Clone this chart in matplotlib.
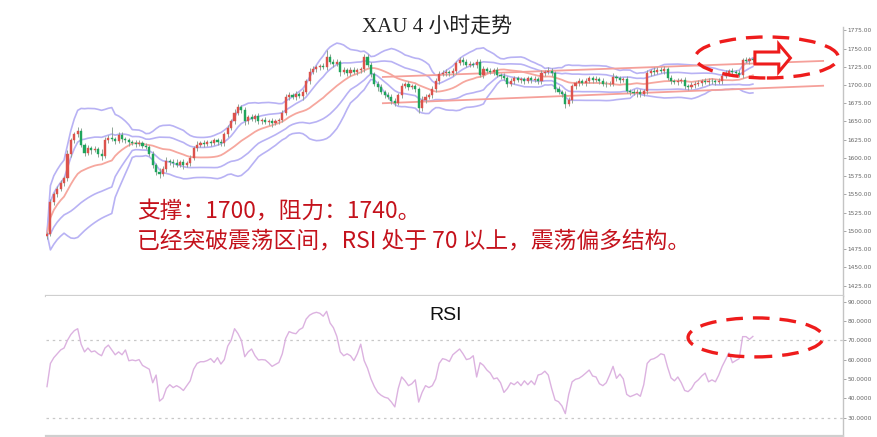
import numpy as np
import pandas as pd
import matplotlib
matplotlib.use("Agg")
import matplotlib.pyplot as plt
from matplotlib.patches import Ellipse, Polygon
from matplotlib.ticker import FormatStrFormatter

# ---------------- data ----------------
closes = [
    1496, 1540, 1550, 1558, 1566, 1572, 1606, 1624, 1633, 1637,
    1618, 1607, 1613, 1611, 1612, 1606, 1603, 1624, 1628, 1626,
    1623, 1631, 1626, 1624, 1622, 1621, 1619, 1620, 1617, 1615,
    1606, 1590, 1581, 1578, 1585, 1596, 1594, 1593, 1591, 1594,
    1590, 1593, 1600, 1614, 1618, 1620, 1619, 1622, 1621, 1624,
    1622, 1620, 1633, 1641, 1650, 1662, 1670, 1666, 1650, 1656,
    1653, 1657, 1650, 1652, 1649, 1651, 1648, 1650, 1652, 1662,
    1683, 1686, 1684, 1688, 1685, 1690, 1705, 1718, 1722, 1724,
    1726, 1725, 1738, 1732, 1729, 1731, 1718, 1720, 1716, 1721,
    1718, 1720, 1722, 1739, 1727, 1715, 1702, 1697, 1690, 1686,
    1684, 1678, 1676, 1686, 1699, 1701, 1697, 1698, 1694, 1668,
    1680, 1684, 1686, 1694, 1706, 1715, 1717, 1718, 1716, 1719,
    1730, 1734, 1732, 1728, 1729, 1727, 1732, 1714, 1722, 1719,
    1718, 1720, 1714, 1712, 1710, 1702, 1705, 1709, 1707, 1708,
    1706, 1709, 1707, 1708, 1705, 1716, 1718, 1719, 1716, 1694,
    1690, 1688, 1674, 1680, 1698, 1703, 1705, 1703, 1706, 1710,
    1707, 1708, 1706, 1702, 1701, 1702, 1711, 1709, 1707, 1708,
    1692, 1690, 1689, 1691, 1688, 1692, 1716, 1719, 1718, 1721,
    1719, 1722, 1710, 1705, 1704, 1706, 1707, 1699, 1697, 1700,
    1702, 1703, 1705, 1704, 1706, 1705, 1704, 1706, 1713, 1716,
    1719, 1718, 1717, 1714, 1734, 1733, 1735, 1734,
]
first_open = 1493

upper_wick = [
    3, 4, 3, 3, 4, 3, 5, 4, 3, 6,
    4, 3, 5, 3, 4, 3, 6, 5, 4, 14,
    3, 4, 5, 3, 4, 3, 3, 4, 3, 3,
    3, 4, 3, 5, 4, 6, 3, 4, 5, 3,
    4, 3, 4, 3, 5, 3, 4, 3, 3, 4,
    3, 4, 3, 4, 3, 5, 4, 3, 4, 3,
    4, 3, 5, 3, 4, 3, 4, 3, 3, 4,
    4, 5, 3, 4, 3, 4, 3, 5, 4, 4,
    3, 4, 10, 4, 3, 4, 3, 4, 3, 3,
    4, 3, 3, 4, 3, 4, 3, 4, 5, 3,
    4, 3, 4, 3, 4, 3, 4, 3, 4, 3,
    5, 4, 3, 4, 3, 4, 3, 4, 3, 4,
    3, 4, 5, 3, 4, 3, 4, 3, 4, 3,
    4, 3, 4, 3, 5, 3, 4, 3, 4, 3,
    3, 4, 3, 4, 3, 4, 3, 5, 4, 3,
    4, 3, 4, 3, 4, 3, 4, 3, 4, 3,
    3, 4, 3, 4, 3, 4, 5, 3, 4, 3,
    4, 3, 4, 3, 4, 3, 4, 3, 5, 3,
    4, 4, 3, 4, 3, 4, 3, 4, 3, 4,
    3, 4, 3, 4, 3, 4, 3, 4, 3, 4,
    3, 4, 3, 4, 3, 4, 3, 4,
]
lower_wick = [
    4, 3, 4, 3, 3, 4, 3, 4, 3, 4,
    3, 4, 3, 5, 3, 4, 6, 3, 4, 3,
    4, 3, 4, 3, 5, 3, 4, 3, 4, 3,
    3, 4, 5, 6, 3, 4, 3, 5, 4, 3,
    5, 3, 4, 3, 4, 3, 4, 3, 4, 3,
    4, 3, 3, 4, 3, 4, 3, 4, 5, 3,
    3, 4, 3, 4, 3, 4, 5, 3, 4, 3,
    3, 4, 3, 4, 3, 5, 3, 4, 3, 4,
    4, 3, 4, 3, 4, 3, 5, 3, 4, 3,
    3, 4, 3, 4, 3, 4, 3, 5, 3, 4,
    3, 4, 5, 3, 4, 3, 4, 3, 4, 6,
    3, 4, 3, 4, 3, 4, 3, 4, 3, 4,
    4, 3, 4, 3, 4, 3, 4, 3, 4, 3,
    3, 4, 3, 4, 3, 5, 3, 4, 3, 4,
    4, 3, 4, 3, 4, 3, 4, 3, 4, 4,
    3, 4, 6, 3, 4, 3, 4, 3, 4, 3,
    4, 3, 4, 3, 4, 3, 4, 3, 4, 3,
    3, 4, 3, 5, 4, 3, 4, 3, 4, 3,
    3, 4, 3, 4, 3, 4, 3, 5, 4, 3,
    4, 3, 4, 3, 4, 3, 4, 3, 4, 3,
    4, 3, 4, 3, 4, 3, 4, 3,
]

rsi = [
    46, 58, 61, 63, 65, 66, 70, 73, 75, 76,
    68, 64, 66, 64, 64.5, 63, 62, 66, 67.5, 65,
    62.5, 64, 62.5, 65, 59.4, 59.8, 59.4, 60, 57, 56,
    55, 48, 52, 38.5, 40, 45, 47, 45.5, 46.5, 45.5,
    44, 46.5, 49, 55, 58, 58.9, 58.9, 59.5, 60.5, 58.5,
    61, 57.7, 60, 67, 70, 76, 73.5, 70, 61.5, 64,
    65.5, 62, 59.8, 60, 59.8, 58.3, 56.5, 57.5, 58.5, 63,
    71, 74.5, 73.8, 73.4, 75.5, 76.5, 81, 83, 84, 84.5,
    84, 82.5, 85, 79, 76.5, 72, 64, 62, 63, 62,
    59.5, 63, 68, 59.5, 55.5, 50, 46, 43, 41.5, 40.5,
    40, 38, 35.5, 45, 51, 49, 46.5, 47.5, 49.5, 38,
    43, 46.5, 45.5, 46.5, 50, 58, 60.5, 60, 59, 62.5,
    64, 65.5, 63, 60, 60.5, 62, 51, 58.4, 57, 54.6,
    53, 50, 50.5, 48, 43, 45, 48, 47, 48.5, 46.5,
    49, 47, 49, 47, 52, 52.5, 54, 52, 45, 39,
    38.2, 36, 32, 42, 48.5, 49.8, 50.3, 51.5, 53, 54.6,
    51.5, 51, 47.5, 46.5, 48, 52, 56.5, 50.3, 52.5, 50,
    42, 40.8, 41.5, 42.3, 41, 47, 58, 60, 60.5, 61.5,
    63, 62.5, 56, 50.5, 49, 51, 48, 44, 43.4, 45,
    48, 49.5, 51.5, 53, 48.5, 49.5, 48.5, 52, 56.5, 60,
    63.5, 58.4, 59.5, 60.5, 71.9, 71.9, 70.5, 72,
]

# channel (trend) lines: (bar index, price) of both ends
channel_x = [98.5, 227.6]
channel_upper = [1711, 1733]
channel_lower = [1675, 1699]

price_ticks = list(range(1425, 1776, 25))
rsi_ticks = [30, 40, 50, 60, 70, 80, 90]
rsi_levels = [70, 30]

title_text = "XAU 4 小时走势"
note_line1 = "支撑：1700，阻力：1740。"
note_line2 = "已经突破震荡区间，RSI 处于 70 以上，震荡偏多结构。"

# ---------------- derived ----------------
c = np.array(closes, dtype=float)
o = np.concatenate([[first_open], c[:-1]])
h = np.maximum(o, c) + np.array(upper_wick)
l = np.minimum(o, c) - np.array(lower_wick)
x = np.arange(len(c))

s = pd.Series(c)
mid = s.rolling(20, min_periods=1).mean()
sd = s.rolling(20, min_periods=1).std(ddof=0).fillna(0)

# ---------------- figure ----------------
W, H = 878, 437
fig = plt.figure(figsize=(W / 100, H / 100), dpi=100)
fig.patch.set_facecolor("white")

L, R = 46, 843
ax = fig.add_axes([L / W, 1 - 296 / H, (R - L) / W, (296 - 27) / H])
ax2 = fig.add_axes([L / W, 1 - 436 / H, (R - L) / W, (436 - 296) / H])

px_per_bar = 3.41
xmin = -1 / px_per_bar
xmax = (R - 47) / px_per_bar
for a in (ax, ax2):
    a.set_xlim(xmin, xmax)
    a.set_facecolor("white")
    for sp in ("top", "left"):
        a.spines[sp].set_visible(False)
    a.spines["right"].set_color("#c4c4c4")
    a.spines["right"].set_linewidth(1.0)
    a.spines["bottom"].set_color("#cfcfcf")
    a.spines["bottom"].set_linewidth(1.6)
    a.yaxis.tick_right()
    a.tick_params(axis="y", labelsize=4.2, labelcolor="#666666", colors="#999999",
                  length=2, width=0.6, pad=1.5)
    a.tick_params(axis="x", bottom=False, labelbottom=False)

# bands
blue = "#b8b2f4"
salmon = "#f6a79e"
ax.plot(x, mid + 2 * sd, color=blue, lw=1.2, zorder=1)
ax.plot(x, mid - 2 * sd, color=blue, lw=1.2, zorder=1)
ax.plot(x, mid + 1 * sd, color=blue, lw=1.2, zorder=1)
ax.plot(x, mid - 1 * sd, color=blue, lw=1.2, zorder=1)
ax.plot(x, mid, color=salmon, lw=1.3, zorder=1)

# channel lines
ax.plot(channel_x, channel_upper, color="#f5a09a", lw=1.3, zorder=1)
ax.plot(channel_x, channel_lower, color="#f5a09a", lw=1.3, zorder=1)

# candles
up = c >= o
col_up, col_dn = "#dc524c", "#1fa55c"
colors = np.where(up, col_up, col_dn)
ax.vlines(x, l, h, color="#8fa596", lw=0.7, zorder=2)
body_bottom = np.minimum(o, c)
body_h = np.maximum(np.abs(c - o), 0.9)
ax.bar(x, body_h, bottom=body_bottom, width=0.62, color=colors, edgecolor=colors,
       linewidth=0.3, zorder=3)

y_top = 1700 + (85 - 27) * 1.3706
y_bot = 1700 - (296 - 85) * 1.3706
ax.set_ylim(y_bot, y_top)
ax.set_yticks(price_ticks)
ax.yaxis.set_major_formatter(FormatStrFormatter("%.2f"))

# RSI panel
ax2.plot(x, rsi, color="#dcb2e0", lw=1.0, zorder=2)
for lv in rsi_levels:
    ax2.axhline(lv, color="#c8c8c8", lw=0.9, ls=(0, (2, 3)), zorder=1)
ax2.set_ylim(70 - (436 - 340.3) / 1.93, 70 + (340.3 - 296) / 1.93)
ax2.set_yticks(rsi_ticks)
ax2.yaxis.set_major_formatter(FormatStrFormatter("%.4f"))

# annotations: ellipses and arrow
red = "#ee1c1c"
ax.add_patch(Ellipse((211.1, 1737.7), 41.9, 56.2, fill=False, edgecolor=red,
                     lw=2.4, ls=(0, (5, 3)), zorder=5, clip_on=False))
ax2.add_patch(Ellipse((207.8, 71.5), 39.6, 20.2, fill=False, edgecolor=red,
                      lw=2.4, ls=(0, (5, 3)), zorder=5, clip_on=False))
ax_pts = [(207.6, 1745.2), (214.6, 1745.2), (214.6, 1756.0), (218.0, 1737.0),
          (214.6, 1718.0), (214.6, 1728.8), (207.6, 1728.8)]
ax.add_patch(Polygon(ax_pts, closed=True, facecolor="white", edgecolor=red,
                     lw=2.2, zorder=6, clip_on=False))

# texts
fig.text(437 / W, 1 - 26.5 / H, title_text, ha="center", va="center", fontsize=15,
         family=["Liberation Serif", "Noto Sans CJK SC"], color="#222222")
fig.text(446 / W, 1 - 315 / H, "RSI", ha="center", va="center", fontsize=14,
         family=["Liberation Sans", "DejaVu Sans"], color="#111111")
txtfam = ["Noto Sans CJK SC", "DejaVu Sans"]
fig.text(137 / W, 1 - 211.5 / H, note_line1, ha="left", va="center", fontsize=16.4,
         family=txtfam, color="#c4121c")
fig.text(137 / W, 1 - 241 / H, note_line2, ha="left", va="center", fontsize=16.4,
         family=txtfam, color="#c4121c")

fig.savefig("out.png", dpi=100, facecolor="white")
